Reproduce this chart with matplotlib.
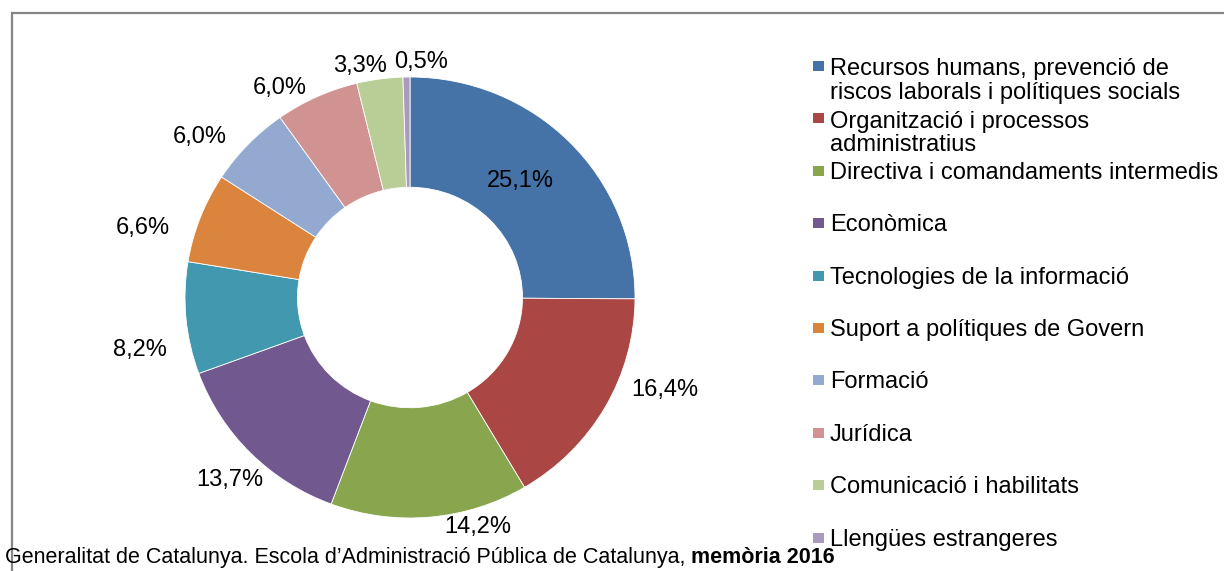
import matplotlib
matplotlib.use('Agg')
import matplotlib.pyplot as plt
from matplotlib.patches import Rectangle

plt.rcParams['font.family'] = ['Liberation Sans', 'DejaVu Sans']

# ---- data ----
categories = [
    "Recursos humans, prevenció de\nriscos laborals i polítiques socials",
    "Organització i processos\nadministratius",
    "Directiva i comandaments intermedis",
    "Econòmica",
    "Tecnologies de la informació",
    "Suport a polítiques de Govern",
    "Formació",
    "Jurídica",
    "Comunicació i habilitats",
    "Llengües estrangeres",
]
values = [25.1, 16.4, 14.2, 13.7, 8.2, 6.6, 6.0, 6.0, 3.3, 0.5]
footer_plain = "Generalitat de Catalunya. Escola d\u2019Administració Pública de Catalunya, "
footer_bold = "memòria 2016"

# ---- style ----
colors = ['#4572A7', '#AA4643', '#89A54E', '#71588F', '#4198AF',
          '#DB843D', '#93A9CF', '#D19392', '#B9CD96', '#A99BBD']
# label centres in pixel coordinates (best-fit placement as in reference)
label_px = [(520, 181), (665, 390), (478, 527), (230, 480), (140, 350),
            (143, 228), (200, 137), (280, 88), (360, 66), (421, 62)]

W, H = 1224, 571
fig = plt.figure(figsize=(W / 100, H / 100), dpi=100)

def fx(px):
    return px / W

def fy(py):
    return 1 - py / H

# frame
fig.patches.append(Rectangle((fx(12), fy(600)), fx(1240) - fx(12), fy(13) - fy(600),
                             transform=fig.transFigure, fill=False,
                             edgecolor='#868686', linewidth=1.6, zorder=0))

# donut axes: pixel box x 185..635, y 77..518
cx, cy, rx, ry = 410, 297.5, 225, 220.5
ax = fig.add_axes([fx(cx - rx), fy(cy + ry), 2 * rx / W, 2 * ry / H])
wedges, _ = ax.pie(values, colors=colors, startangle=90, counterclock=False,
                   radius=1.0,
                   wedgeprops=dict(width=0.5, edgecolor='white', linewidth=0.6))
ax.set_xlim(-1, 1)
ax.set_ylim(-1, 1)
ax.set_aspect('auto')
ax.axis('off')

for v, (px, py) in zip(values, label_px):
    lx = (px - cx) / rx
    ly = (cy - py) / ry
    ax.text(lx, ly, f"{v:.1f}%".replace('.', ','), ha='center', va='center',
            fontsize=17, color='#000000', clip_on=False)

# legend (manual, fixed slots)
slot0, step, line_step = 66, 52.4, 25
for i, (lab, col) in enumerate(zip(categories, colors)):
    yc = slot0 + step * i
    nlines = lab.count('\n') + 1
    fig.patches.append(Rectangle((fx(813), fy(yc + 5)), 11 / W, 10 / H,
                                 transform=fig.transFigure, facecolor=col,
                                 edgecolor='none'))
    fig.text(fx(830), fy(yc + 8 + (nlines - 1) * line_step), lab,
             ha='left', va='baseline',
             fontsize=17, linespacing=1.1, color='#000000')

# footer
t1 = fig.text(fx(5), fy(563), footer_plain, ha='left', va='baseline',
              fontsize=15.5, color='#000000')
renderer = fig.canvas.get_renderer()
bb = t1.get_window_extent(renderer=renderer)
fig.text(bb.x1 / W, fy(563), footer_bold, ha='left', va='baseline',
         fontsize=15.5, fontweight='bold', color='#000000')

fig.savefig('out.png', dpi=100)
